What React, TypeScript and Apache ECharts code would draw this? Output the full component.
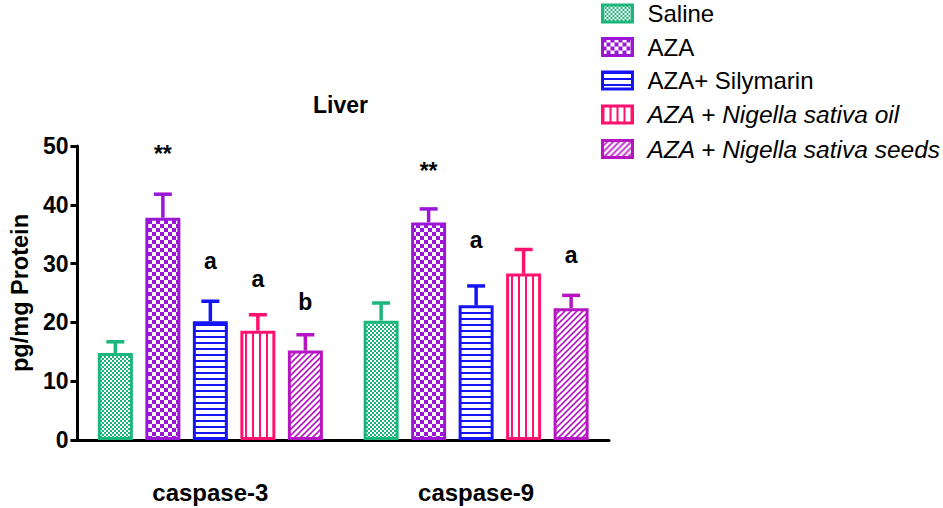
import React, { useEffect, useRef } from 'react';
import * as echarts from 'echarts';

const categories = ['caspase-3', 'caspase-9'];
const seriesNames = ['Saline', 'AZA', 'AZA+ Silymarin', 'AZA + Nigella sativa oil', 'AZA + Nigella sativa seeds'];
const italicLegend = [false, false, false, true, true];
const seriesColors = ['#1bb679', '#9c16d8', '#1414f5', '#ff1170', '#b616c2'];

const salineMean = [14.8, 20.3];
const salineUpper = [16.7, 23.3];
const azaMean = [37.8, 37.0];
const azaUpper = [41.8, 39.3];
const silymarinMean = [20.2, 22.9];
const silymarinUpper = [23.6, 26.2];
const oilMean = [18.6, 28.3];
const oilUpper = [21.3, 32.4];
const seedsMean = [15.2, 22.4];
const seedsUpper = [17.9, 24.6];

const means = [salineMean, azaMean, silymarinMean, oilMean, seedsMean];
const uppers = [salineUpper, azaUpper, silymarinUpper, oilUpper, seedsUpper];

const annotationCat = [0, 0, 0, 0, 1, 1, 1];
const annotationSeries = [1, 2, 3, 4, 1, 2, 4];
const annotationText = ['**', 'a', 'a', 'b', '**', 'a', 'a'];
const annotationY = [48.7, 30.4, 27.4, 23.5, 45.7, 34.0, 31.5];

const Y_MIN = 0;
const Y_MAX = 50;
const Y_INTERVAL = 10;

const FONT = '"Liberation Sans", Arial, sans-serif';
const BAR_W = 35;
const PITCH = 47.5;
const BAR_GAP = (PITCH - BAR_W) / BAR_W;

function makePattern(kind: number, color: string) {
  const c = document.createElement('canvas');
  let w = 4, h = 4;
  if (kind === 0) { w = 4; h = 4; }
  if (kind === 1) { w = 8; h = 8; }
  if (kind === 2) { w = 6; h = 6; }
  if (kind === 3) { w = 7; h = 6; }
  if (kind === 4) { w = 6; h = 6; }
  c.width = w; c.height = h;
  const ctx = c.getContext('2d')!;
  ctx.fillStyle = '#ffffff';
  ctx.fillRect(0, 0, w, h);
  ctx.fillStyle = color;
  ctx.strokeStyle = color;
  if (kind === 0) {
    ctx.fillRect(0, 0, 2, 2);
    ctx.fillRect(2, 2, 2, 2);
  } else if (kind === 1) {
    ctx.fillRect(0, 0, 4, 4);
    ctx.fillRect(4, 4, 4, 4);
  } else if (kind === 2) {
    ctx.fillRect(0, 0, w, 2);
  } else if (kind === 3) {
    ctx.fillRect(0, 0, 2, h);
  } else if (kind === 4) {
    ctx.lineWidth = 1.6;
    ctx.beginPath();
    ctx.moveTo(-1, h + 1); ctx.lineTo(w + 1, -1);
    ctx.moveTo(-1, 1); ctx.lineTo(1, -1);
    ctx.moveTo(w - 1, h + 1); ctx.lineTo(w + 1, h - 1);
    ctx.stroke();
  }
  return { image: c, repeat: 'repeat', imageWidth: w, imageHeight: h } as any;
}

export default function App() {
  const ref = useRef<HTMLDivElement>(null);
  useEffect(() => {
    if (!ref.current) return;
    const chart = echarts.init(ref.current, null, { renderer: 'svg' });

    const barSeries = seriesNames.map((name, i) => ({
      name,
      type: 'bar',
      data: means[i],
      barWidth: BAR_W,
      barGap: `${BAR_GAP * 100}%`,
      itemStyle: {
        color: makePattern(i, seriesColors[i]),
        borderColor: seriesColors[i],
        borderWidth: 3,
      },
      emphasis: { disabled: true },
      z: 2,
    }));

    const errorData: number[][] = [];
    seriesNames.forEach((_, s) => {
      categories.forEach((_, c) => {
        errorData.push([c, s, means[s][c], uppers[s][c]]);
      });
    });

    const errorSeries = {
      name: 'errors',
      type: 'custom',
      data: errorData,
      z: 3,
      silent: true,
      renderItem: (params: any, api: any) => {
        const c = api.value(0);
        const s = api.value(1);
        const base = api.coord([c, api.value(2)]);
        const top = api.coord([c, api.value(3)]);
        const x = base[0] + (s - 2) * PITCH;
        const color = seriesColors[s];
        return {
          type: 'group',
          children: [
            { type: 'line', shape: { x1: x, y1: base[1], x2: x, y2: top[1] }, style: { stroke: color, lineWidth: 3.5 } },
            { type: 'line', shape: { x1: x - 9, y1: top[1], x2: x + 9, y2: top[1] }, style: { stroke: color, lineWidth: 3.5 } },
          ],
        };
      },
    };

    const annotationSeriesObj = {
      name: 'annotations',
      type: 'custom',
      data: annotationY.map((y, i) => [annotationCat[i], annotationSeries[i], y]),
      z: 4,
      silent: true,
      renderItem: (params: any, api: any) => {
        const c = api.value(0);
        const s = api.value(1);
        const p = api.coord([c, api.value(2)]);
        const x = p[0] + (s - 2) * PITCH;
        return {
          type: 'text',
          x,
          y: p[1],
          style: {
            text: annotationText[params.dataIndex],
            fill: '#000',
            font: `bold 23px ${FONT}`,
            align: 'center',
            verticalAlign: 'middle',
          },
        };
      },
    };

    chart.setOption({
      animation: false,
      backgroundColor: '#ffffff',
      title: {
        text: 'Liver',
        left: 313,
        top: 93,
        padding: 0,
        textStyle: { fontFamily: FONT, fontWeight: 'bold', fontSize: 23, color: '#000' },
      },
      legend: {
        orient: 'vertical',
        left: 601,
        top: 1.5,
        padding: 0,
        itemWidth: 30,
        itemHeight: 17,
        itemGap: 9.5,
        icon: 'rect',
        selectedMode: false,
        itemStyle: { borderWidth: 3 },
        textStyle: { fontFamily: FONT, fontSize: 24, color: '#000', lineHeight: 24, padding: [0, 0, 0, 10] },
        data: seriesNames.map((name, i) => ({
          name,
          textStyle: italicLegend[i] ? { fontStyle: 'italic', fontSize: 24.5 } : { fontStyle: 'normal' },
        })),
      },
      grid: { left: 71, right: 334, top: 146, bottom: 68, containLabel: false },
      xAxis: {
        type: 'category',
        data: categories,
        axisLine: { lineStyle: { color: '#000', width: 3 } },
        axisTick: { alignWithLabel: true, length: 6, lineStyle: { color: '#000', width: 3 } },
        axisLabel: { fontFamily: FONT, fontWeight: 'bold', fontSize: 24, color: '#000', margin: 40 },
      },
      yAxis: {
        type: 'value',
        min: Y_MIN,
        max: Y_MAX,
        interval: Y_INTERVAL,
        name: 'pg/mg Protein',
        nameLocation: 'middle',
        nameRotate: 90,
        nameGap: 42,
        nameTextStyle: { fontFamily: FONT, fontWeight: 'bold', fontSize: 23.5, color: '#000' },
        splitLine: { show: false },
        axisLine: { show: true, lineStyle: { color: '#000', width: 3 } },
        axisTick: { show: true, length: 7, lineStyle: { color: '#000', width: 3 } },
        axisLabel: { fontFamily: FONT, fontWeight: 'bold', fontSize: 23, color: '#000', margin: 9 },
      },
      series: [...barSeries, errorSeries, annotationSeriesObj],
    });
    return () => chart.dispose();
  }, []);
  return <div ref={ref} style={{ width: 943, height: 508, position: 'absolute', left: 0, top: 0 }} />;
}
